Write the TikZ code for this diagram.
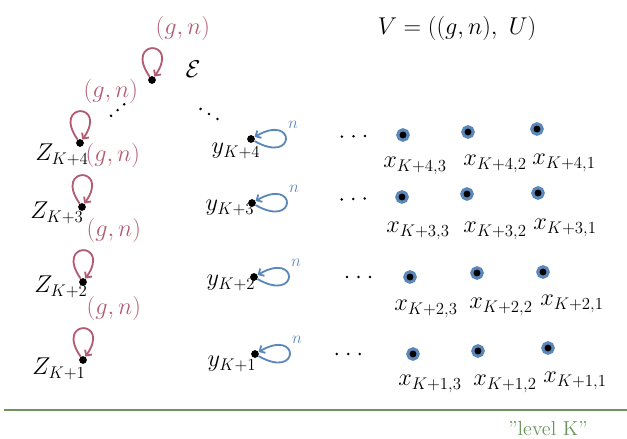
\documentclass[tikz,border=0pt]{standalone}
\usetikzlibrary{arrows.meta}
\definecolor{loopred}{RGB}{178,92,115}
\definecolor{loopblue}{RGB}{92,135,185}
\definecolor{levelgreen}{RGB}{108,148,92}
\tikzset{
  vtx/.style={circle,fill=black,inner sep=0pt,minimum size=5.5pt},
  leaf/.style={circle,fill=black,draw=loopblue,line width=2.2pt,inner sep=0pt,minimum size=7.5pt},
  lbl/.style={font=\LARGE,inner sep=0pt},
  redloop/.style={draw=loopred,line width=1.3pt,-{Straight Barb[length=3pt,width=6pt]}},
  blueloop/.style={draw=loopblue,line width=1.3pt,-{Straight Barb[length=3pt,width=6pt]}},
  gn/.style={text=loopred,font=\LARGE,anchor=south west,inner sep=2pt,yshift=3pt},
  nlab/.style={text=loopblue,font=\large,anchor=south west,inner sep=1pt,yshift=6pt},
  dotchain/.style={line width=2pt,line cap=round,dash pattern=on 0pt off #1},
  dotchain/.default=8.2pt,
}
\begin{document}
\begin{tikzpicture}[x=0.025cm,y=0.025cm]
  \useasboundingbox (0,0) rectangle (627,-439);
  \node[lbl] (vdef) at (457,-28) {$V = ((g,n),\ U)$};
  \node[vtx] (eps) at (152,-80) {};
  \node[lbl] (epsl) at (193,-69) {$\mathcal{E}$};
  \node[vtx] (z4) at (80,-143) {};
  \node[vtx] (z3) at (82,-207) {};
  \node[vtx] (z2) at (83,-282) {};
  \node[vtx] (z1) at (83,-360) {};
  \node[lbl] (z4l) at (62,-155) {$Z_{K+4}$};
  \node[lbl] (z3l) at (57,-213) {$Z_{K+3}$};
  \node[lbl] (z2l) at (61,-287) {$Z_{K+2}$};
  \node[lbl] (z1l) at (59,-369) {$Z_{K+1}$};
  \node[vtx] (y4) at (251,-139) {};
  \node[vtx] (y3) at (252,-203) {};
  \node[vtx] (y2) at (254,-277) {};
  \node[vtx] (y1) at (255,-354) {};
  \node[lbl] (y4l) at (236,-151) {$y_{K+4}$};
  \node[lbl] (y3l) at (230,-208) {$y_{K+3}$};
  \node[lbl] (y2l) at (231,-283) {$y_{K+2}$};
  \node[lbl] (y1l) at (232,-364) {$y_{K+1}$};
  \node[leaf] (x43) at (403,-135) {};
  \node[leaf] (x42) at (468,-132) {};
  \node[leaf] (x41) at (537,-129) {};
  \node[leaf] (x33) at (402,-197) {};
  \node[leaf] (x32) at (467,-194) {};
  \node[leaf] (x31) at (538,-193) {};
  \node[leaf] (x23) at (410,-277) {};
  \node[leaf] (x22) at (477,-273) {};
  \node[leaf] (x21) at (543,-272) {};
  \node[leaf] (x13) at (413,-354) {};
  \node[leaf] (x12) at (478,-351) {};
  \node[leaf] (x11) at (548,-348) {};
  \node[lbl] (x43l) at (415,-166) {$x_{K+4,3}$};
  \node[lbl] (x42l) at (495,-164) {$x_{K+4,2}$};
  \node[lbl] (x41l) at (564,-163) {$x_{K+4,1}$};
  \node[lbl] (x33l) at (418,-231) {$x_{K+3,3}$};
  \node[lbl] (x32l) at (495,-231) {$x_{K+3,2}$};
  \node[lbl] (x31l) at (565,-228) {$x_{K+3,1}$};
  \node[lbl] (x23l) at (426,-309) {$x_{K+2,3}$};
  \node[lbl] (x22l) at (501,-307) {$x_{K+2,2}$};
  \node[lbl] (x21l) at (572,-304) {$x_{K+2,1}$};
  \node[lbl] (x13l) at (430,-384) {$x_{K+1,3}$};
  \node[lbl] (x12l) at (505,-384) {$x_{K+1,2}$};
  \node[lbl] (x11l) at (575,-381) {$x_{K+1,1}$};
  \draw[redloop] (eps) to[out=125,in=55,min distance=11.5mm] node[gn] {$(g,n)$} (eps);
  \draw[redloop] (z4) to[out=125,in=55,min distance=11.5mm] node[gn] {$(g,n)$} (z4);
  \draw[redloop] (z3) to[out=125,in=55,min distance=11.5mm] node[gn] {$(g,n)$} (z3);
  \draw[redloop] (z2) to[out=125,in=55,min distance=11.5mm] node[gn] {$(g,n)$} (z2);
  \draw[redloop] (z1) to[out=125,in=55,min distance=11.5mm] node[gn] {$(g,n)$} (z1);
  \draw[blueloop] (y4) to[out=-30,in=30,min distance=12mm] node[nlab] {$n$} (y4);
  \draw[blueloop] (y3) to[out=-30,in=30,min distance=12mm] node[nlab] {$n$} (y3);
  \draw[blueloop] (y2) to[out=-30,in=30,min distance=12mm] node[nlab] {$n$} (y2);
  \draw[blueloop] (y1) to[out=-30,in=30,min distance=12mm] node[nlab] {$n$} (y1);
  \draw[dotchain=6.2pt,shorten <=0.82cm,shorten >=0.84cm] (eps) -- (z4);
  \draw[dotchain=7pt,shorten <=1.31cm,shorten >=0.82cm] (eps) -- (y4);
  \draw[dotchain,shorten <=2.17cm,shorten >=0.66cm] (y4) -- (x43);
  \draw[dotchain,shorten <=2.14cm,shorten >=0.63cm] (y3) -- (x33);
  \draw[dotchain,shorten <=2.22cm,shorten >=0.71cm] (y2) -- (x23);
  \draw[dotchain,shorten <=1.94cm,shorten >=1.03cm] (y1) -- (x13);
  \draw[levelgreen,line width=1.5pt] (4,-410) -- (627,-410);
  \node[text=levelgreen,font=\Large] (level) at (548,-429) {"level K"};
\end{tikzpicture}
\end{document}
